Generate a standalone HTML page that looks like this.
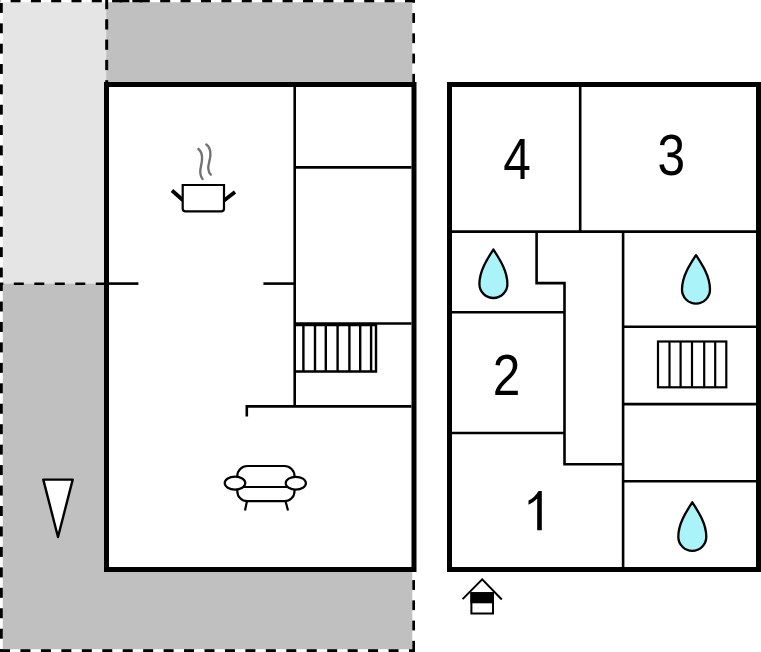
<!DOCTYPE html>
<html><head><meta charset="utf-8">
<style>
html,body{margin:0;padding:0;background:#fff;width:761px;height:652px;overflow:hidden;}
svg{display:block;}
text{font-family:"Liberation Sans",sans-serif;}
</style></head>
<body>
<svg width="761" height="652" viewBox="0 0 761 652">
<!-- plot areas -->
<rect x="2.8" y="2.3" width="103.4" height="281.2" fill="#e5e5e5"/>
<polygon points="106.2,2.3 412.3,2.3 412.3,649.2 2.8,649.2 2.8,283.5 106.2,283.5" fill="#c0c0c0"/>
<g fill="#000">
<rect x="0.00" y="0.00" width="0.30" height="2.30"/>
<rect x="10.60" y="0.00" width="10.00" height="2.30"/>
<rect x="30.90" y="0.00" width="10.00" height="2.30"/>
<rect x="51.20" y="0.00" width="10.00" height="2.30"/>
<rect x="71.50" y="0.00" width="10.00" height="2.30"/>
<rect x="91.80" y="0.00" width="10.00" height="2.30"/>
<rect x="112.10" y="0.00" width="10.00" height="2.30"/>
<rect x="132.40" y="0.00" width="10.00" height="2.30"/>
<rect x="119.40" y="0.00" width="10.00" height="2.30"/>
<rect x="139.80" y="0.00" width="10.00" height="2.30"/>
<rect x="160.20" y="0.00" width="10.00" height="2.30"/>
<rect x="180.60" y="0.00" width="10.00" height="2.30"/>
<rect x="201.00" y="0.00" width="10.00" height="2.30"/>
<rect x="221.40" y="0.00" width="10.00" height="2.30"/>
<rect x="241.80" y="0.00" width="10.00" height="2.30"/>
<rect x="262.20" y="0.00" width="10.00" height="2.30"/>
<rect x="282.60" y="0.00" width="10.00" height="2.30"/>
<rect x="303.00" y="0.00" width="10.00" height="2.30"/>
<rect x="323.40" y="0.00" width="10.00" height="2.30"/>
<rect x="343.80" y="0.00" width="10.00" height="2.30"/>
<rect x="364.20" y="0.00" width="10.00" height="2.30"/>
<rect x="384.60" y="0.00" width="10.00" height="2.30"/>
<rect x="405.00" y="0.00" width="10.00" height="2.30"/>
<rect x="0.00" y="3.00" width="2.80" height="9.90"/>
<rect x="0.00" y="23.35" width="2.80" height="9.90"/>
<rect x="0.00" y="43.70" width="2.80" height="9.90"/>
<rect x="0.00" y="64.05" width="2.80" height="9.90"/>
<rect x="0.00" y="84.40" width="2.80" height="9.90"/>
<rect x="0.00" y="104.75" width="2.80" height="9.90"/>
<rect x="0.00" y="125.10" width="2.80" height="9.90"/>
<rect x="0.00" y="145.45" width="2.80" height="9.90"/>
<rect x="0.00" y="165.80" width="2.80" height="9.90"/>
<rect x="0.00" y="186.15" width="2.80" height="9.90"/>
<rect x="0.00" y="206.50" width="2.80" height="9.90"/>
<rect x="0.00" y="226.85" width="2.80" height="9.90"/>
<rect x="0.00" y="247.20" width="2.80" height="9.90"/>
<rect x="0.00" y="267.55" width="2.80" height="9.90"/>
<rect x="0.00" y="283.50" width="2.80" height="7.55"/>
<rect x="0.00" y="301.50" width="2.80" height="10.00"/>
<rect x="0.00" y="321.95" width="2.80" height="10.00"/>
<rect x="0.00" y="342.40" width="2.80" height="10.00"/>
<rect x="0.00" y="362.85" width="2.80" height="10.00"/>
<rect x="0.00" y="383.30" width="2.80" height="10.00"/>
<rect x="0.00" y="403.75" width="2.80" height="10.00"/>
<rect x="0.00" y="424.20" width="2.80" height="10.00"/>
<rect x="0.00" y="444.65" width="2.80" height="10.00"/>
<rect x="0.00" y="465.10" width="2.80" height="10.00"/>
<rect x="0.00" y="485.55" width="2.80" height="10.00"/>
<rect x="0.00" y="506.00" width="2.80" height="10.00"/>
<rect x="0.00" y="526.45" width="2.80" height="10.00"/>
<rect x="0.00" y="546.90" width="2.80" height="10.00"/>
<rect x="0.00" y="567.35" width="2.80" height="10.00"/>
<rect x="0.00" y="587.80" width="2.80" height="10.00"/>
<rect x="0.00" y="608.25" width="2.80" height="10.00"/>
<rect x="0.00" y="628.70" width="2.80" height="10.00"/>
<rect x="0.00" y="649.15" width="2.80" height="2.85"/>
<rect x="0.00" y="649.20" width="10.00" height="2.80"/>
<rect x="20.45" y="649.20" width="10.00" height="2.80"/>
<rect x="40.90" y="649.20" width="10.00" height="2.80"/>
<rect x="61.35" y="649.20" width="10.00" height="2.80"/>
<rect x="81.80" y="649.20" width="10.00" height="2.80"/>
<rect x="102.25" y="649.20" width="10.00" height="2.80"/>
<rect x="122.70" y="649.20" width="10.00" height="2.80"/>
<rect x="143.15" y="649.20" width="10.00" height="2.80"/>
<rect x="163.60" y="649.20" width="10.00" height="2.80"/>
<rect x="184.05" y="649.20" width="10.00" height="2.80"/>
<rect x="204.50" y="649.20" width="10.00" height="2.80"/>
<rect x="224.95" y="649.20" width="10.00" height="2.80"/>
<rect x="245.40" y="649.20" width="10.00" height="2.80"/>
<rect x="265.85" y="649.20" width="10.00" height="2.80"/>
<rect x="286.30" y="649.20" width="10.00" height="2.80"/>
<rect x="306.75" y="649.20" width="10.00" height="2.80"/>
<rect x="327.20" y="649.20" width="10.00" height="2.80"/>
<rect x="347.65" y="649.20" width="10.00" height="2.80"/>
<rect x="368.10" y="649.20" width="10.00" height="2.80"/>
<rect x="388.55" y="649.20" width="10.00" height="2.80"/>
<rect x="409.00" y="649.20" width="6.00" height="2.80"/>
<rect x="412.30" y="0.00" width="2.70" height="2.65"/>
<rect x="412.30" y="13.10" width="2.70" height="9.80"/>
<rect x="412.30" y="33.35" width="2.70" height="9.80"/>
<rect x="412.30" y="53.60" width="2.70" height="9.80"/>
<rect x="412.30" y="73.85" width="2.70" height="9.80"/>
<rect x="412.30" y="94.10" width="2.70" height="9.80"/>
<rect x="412.30" y="114.35" width="2.70" height="9.80"/>
<rect x="412.30" y="134.60" width="2.70" height="9.80"/>
<rect x="412.30" y="154.85" width="2.70" height="9.80"/>
<rect x="412.30" y="175.10" width="2.70" height="9.80"/>
<rect x="412.30" y="195.35" width="2.70" height="9.80"/>
<rect x="412.30" y="215.60" width="2.70" height="9.80"/>
<rect x="412.30" y="235.85" width="2.70" height="9.80"/>
<rect x="412.30" y="256.10" width="2.70" height="9.80"/>
<rect x="412.30" y="276.35" width="2.70" height="9.80"/>
<rect x="412.30" y="296.60" width="2.70" height="9.80"/>
<rect x="412.30" y="316.85" width="2.70" height="9.80"/>
<rect x="412.30" y="337.10" width="2.70" height="9.80"/>
<rect x="412.30" y="357.35" width="2.70" height="9.80"/>
<rect x="412.30" y="377.60" width="2.70" height="9.80"/>
<rect x="412.30" y="397.85" width="2.70" height="9.80"/>
<rect x="412.30" y="418.10" width="2.70" height="9.80"/>
<rect x="412.30" y="438.35" width="2.70" height="9.80"/>
<rect x="412.30" y="458.60" width="2.70" height="9.80"/>
<rect x="412.30" y="478.85" width="2.70" height="9.80"/>
<rect x="412.30" y="499.10" width="2.70" height="9.80"/>
<rect x="412.30" y="519.35" width="2.70" height="9.80"/>
<rect x="412.30" y="539.60" width="2.70" height="9.80"/>
<rect x="412.30" y="559.85" width="2.70" height="9.80"/>
<rect x="412.30" y="580.10" width="2.70" height="9.80"/>
<rect x="412.30" y="600.35" width="2.70" height="9.80"/>
<rect x="412.30" y="620.60" width="2.70" height="9.80"/>
<rect x="412.30" y="640.85" width="2.70" height="9.80"/>
<rect x="0.00" y="282.50" width="3.30" height="2.50"/>
<rect x="13.80" y="282.50" width="10.00" height="2.50"/>
<rect x="34.30" y="282.50" width="10.00" height="2.50"/>
<rect x="54.80" y="282.50" width="10.00" height="2.50"/>
<rect x="75.30" y="282.50" width="10.00" height="2.50"/>
<rect x="95.80" y="282.50" width="10.00" height="2.50"/>
<rect x="105.20" y="0.00" width="3.00" height="9.20"/>
<rect x="105.20" y="19.30" width="3.00" height="10.20"/>
<rect x="105.20" y="39.60" width="3.00" height="10.20"/>
<rect x="105.20" y="59.90" width="3.00" height="10.20"/>
<rect x="105.20" y="80.20" width="3.00" height="3.80"/>
</g>

<!-- left building -->
<rect x="106.5" y="84.5" width="307.5" height="485" fill="#fff" stroke="#000" stroke-width="5"/>
<g stroke="#000" stroke-width="2.6" fill="none">
  <line x1="294.7" y1="87" x2="294.7" y2="406.4"/>
  <line x1="294.7" y1="167.4" x2="411.5" y2="167.4"/>
  <line x1="294.7" y1="323.5" x2="411.5" y2="323.5"/>
  <polyline points="246.8,416.5 246.8,406.4 411.5,406.4"/>
  <line x1="109" y1="283.6" x2="138.4" y2="283.6"/>
  <line x1="263.4" y1="283.6" x2="294.7" y2="283.6"/>
</g>
<g stroke="#000" stroke-width="2.4" fill="none">
  <polyline points="294.7,325 376,325 376,371.5 294.7,371.5"/>
  <line x1="303.4" y1="324" x2="303.4" y2="371"/>
  <line x1="315" y1="324" x2="315" y2="371"/>
  <line x1="325.8" y1="324" x2="325.8" y2="371"/>
  <line x1="337.6" y1="324" x2="337.6" y2="371"/>
  <line x1="349.4" y1="324" x2="349.4" y2="371"/>
  <line x1="360.2" y1="324" x2="360.2" y2="371"/>
  <line x1="371.1" y1="324" x2="371.1" y2="371"/>
</g>

<!-- pot -->
<g stroke="#000" fill="none">
  <line x1="172" y1="190.5" x2="183" y2="200.2" stroke-width="3.8"/>
  <line x1="224" y1="200.4" x2="235" y2="192" stroke-width="3.8"/>
  <path d="M182.7,185 H224 V208.6 Q224,211.4 221.2,211.4 H185.5 Q182.7,211.4 182.7,208.6 Z" stroke-width="2.2" fill="#fff"/>
</g>
<g stroke="#727272" stroke-width="2.4" fill="none" stroke-linecap="round">
  <path d="M198.4,149 C201.3,151.3 202.4,155 202,160 C201.6,165 199.8,169 200.3,173 C200.6,176 201.7,178 202.6,179"/>
  <path d="M206.3,144.6 C209.2,146.6 210.6,150 210.4,155 C210.2,160 208,164 208.3,168.5 C208.5,171.5 209.5,173.5 210.8,174.6"/>
</g>

<!-- sofa -->
<g stroke="#000" stroke-width="2.2" fill="#fff">
  <line x1="247" y1="501" x2="245" y2="510.5"/>
  <line x1="285.5" y1="501" x2="288" y2="510.5"/>
  <rect x="237.3" y="466" width="57.2" height="35.2" rx="10" ry="10"/>
  <line x1="237" y1="487" x2="295" y2="487" fill="none"/>
  <ellipse cx="235" cy="483.1" rx="10.3" ry="6.5"/>
  <ellipse cx="295.8" cy="483.2" rx="10.1" ry="6.4"/>
</g>

<!-- north triangle -->
<polygon points="43.3,479.6 72.7,479.6 58,537" fill="#fff" stroke="#000" stroke-width="2.4" stroke-linejoin="round"/>

<!-- right building -->
<rect x="449.5" y="84.5" width="309" height="485" fill="#fff" stroke="#000" stroke-width="5"/>
<g stroke="#000" stroke-width="2.6" fill="none">
  <line x1="580.2" y1="87" x2="580.2" y2="231.6"/>
  <line x1="452" y1="231.6" x2="756" y2="231.6"/>
  <polyline points="536.6,231.6 536.6,283.1 564.5,283.1 564.5,464.3 623.1,464.3"/>
  <line x1="452" y1="312.2" x2="564.5" y2="312.2"/>
  <line x1="452" y1="433" x2="564.5" y2="433"/>
  <line x1="623.1" y1="231.6" x2="623.1" y2="567"/>
  <line x1="623.1" y1="326.7" x2="756" y2="326.7"/>
  <line x1="623.1" y1="404.1" x2="756" y2="404.1"/>
  <line x1="623.1" y1="481.2" x2="756" y2="481.2"/>
</g>
<g stroke="#000" stroke-width="2.2" fill="none">
  <rect x="658" y="341.5" width="68.3" height="45.8"/>
  <line x1="669.5" y1="341.5" x2="669.5" y2="387.3"/>
  <line x1="680.6" y1="341" x2="680.6" y2="387.3"/>
  <line x1="692" y1="341" x2="692" y2="387.3"/>
  <line x1="704.2" y1="341" x2="704.2" y2="387.3"/>
  <line x1="715.2" y1="341" x2="715.2" y2="387.3"/>
</g>

<!-- drops -->
<g stroke="#000" stroke-width="2.3" fill="#aaf3f8" stroke-linejoin="round">
  <path transform="translate(493.4,284)" d="M0,-34.5 C6.5,-24.5 14,-13 14,0 A14,14 0 0 1 -14,0 C-14,-13 -6.5,-24.5 0,-34.5 Z"/>
  <path transform="translate(696,289.6)" d="M0,-34.5 C6.5,-24.5 14,-13 14,0 A14,14 0 0 1 -14,0 C-14,-13 -6.5,-24.5 0,-34.5 Z"/>
  <path transform="translate(692.3,536.8)" d="M0,-34.5 C6.5,-24.5 14,-13 14,0 A14,14 0 0 1 -14,0 C-14,-13 -6.5,-24.5 0,-34.5 Z"/>
</g>

<!-- labels -->
<g font-size="57" fill="#000" text-anchor="middle">
  <text transform="translate(517,178.8) scale(0.87,1)">4</text>
  <text transform="translate(671.3,175) scale(0.87,1)">3</text>
  <text transform="translate(506.5,395.2) scale(0.87,1)">2</text>
</g>

<path d="M541.8,490.9 L541.8,530.2 L537.2,530.2 L537.2,498.6 C534.5,501.5 531.5,503.3 528.5,504.8 L528.5,500.6 C532.5,498.6 536,495 538.6,490.9 Z" fill="#000"/>

<!-- house icon -->
<g stroke="#000" stroke-width="2" fill="none">
  <polyline points="462.6,599.1 482.2,579.4 501.8,599.5"/>
  <rect x="471.4" y="593.2" width="21.6" height="20.3" fill="#fff"/>
  <rect x="471.4" y="593.2" width="21.6" height="9.1" fill="#000"/>
</g>
</svg>
</body></html>
